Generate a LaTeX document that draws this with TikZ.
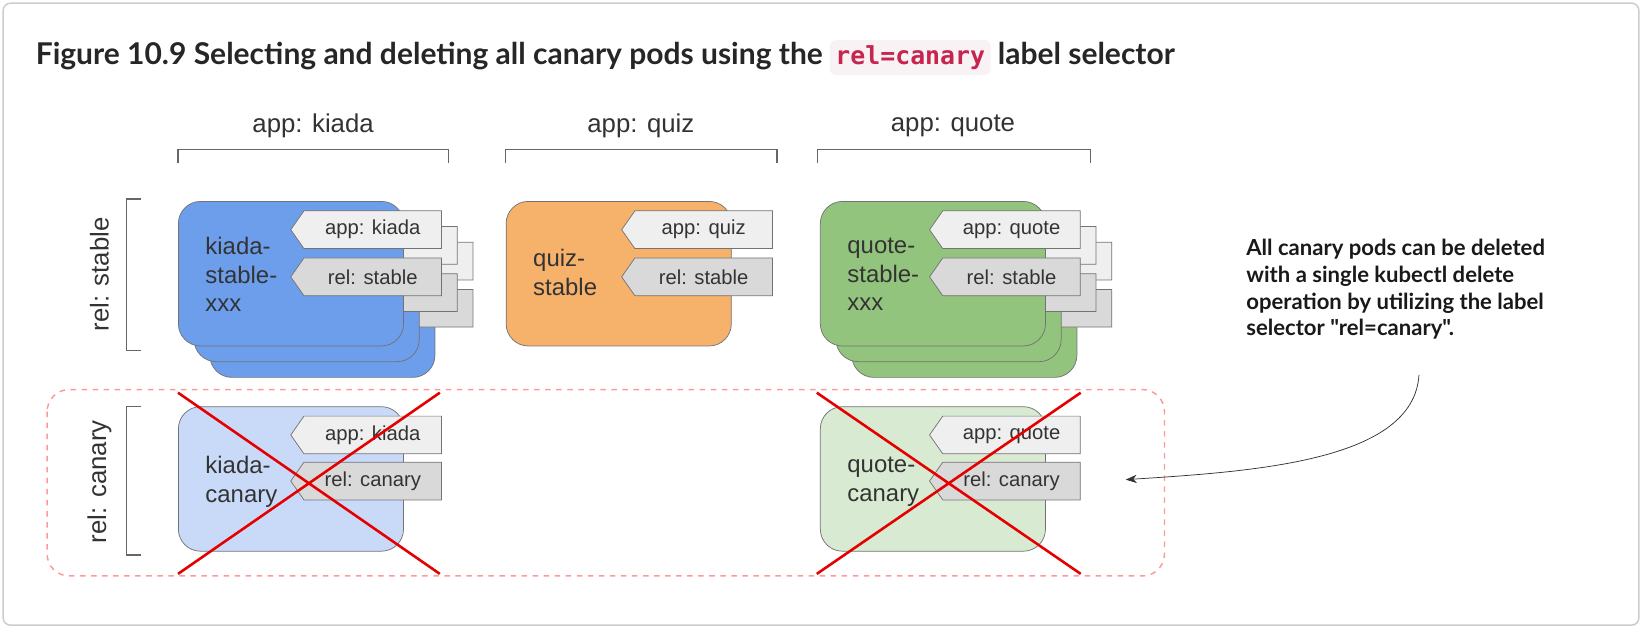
\documentclass[tikz,border=0pt]{standalone}
\usepackage{fontspec}
\setmainfont{Liberation Sans}
\newfontfamily\lato{Lato}
\newfontfamily\monofont{DejaVu Sans Mono}
\usepackage{tikz}
\usetikzlibrary{
	shapes.symbols,
	positioning,
	arrows.meta
}
\definecolor{kiadablue}{HTML}{6D9EEB}
\definecolor{kiadalight}{HTML}{C9DAF8}
\definecolor{quizorange}{HTML}{F6B26B}
\definecolor{quotegreen}{HTML}{93C47D}
\definecolor{quotelight}{HTML}{D9EAD3}
\definecolor{tagapp}{HTML}{EFEFEF}
\definecolor{tagrel}{HTML}{D9D9D9}
\definecolor{codered}{HTML}{C7254E}
\definecolor{codebg}{HTML}{F9F2F4}
\begin{document}
\begin{tikzpicture}[x=0.02cm,y=-0.02cm,
	pod/.style={draw=black!55,rounded corners=12pt,minimum width=215*0.02cm,minimum height=138*0.02cm,anchor=north west,inner sep=0},
	podtext/.style={anchor=west,align=left,font=\fontsize{13}{15.5}\selectfont,text=black!80},
	tag/.style={draw=black!55,shape=signal,signal to=west,signal pointer angle=110,minimum width=144*0.02cm,minimum height=36*0.02cm,anchor=north east,inner sep=0,font=\fontsize{11}{13}\selectfont,text=black!80},
	apptag/.style={tag,fill=tagapp},
	reltag/.style={tag,fill=tagrel},
	header/.style={font=\fontsize{14}{16}\selectfont,text=black!80},
	brace/.style={draw=black!60,line width=0.6pt},
	cross/.style={draw=red!90!black,line width=1.4pt}
]
	\useasboundingbox (0,0) rectangle (1568,600);
	\draw[black!20,rounded corners=4pt,line width=0.8pt] (3,3) rectangle (1565,597);

	% title
	\node[anchor=west,font=\lato\bfseries\fontsize{16.3}{19}\selectfont,text=black!85] (title) at (28,55)
		{Figure 10.9 Selecting and deleting all canary pods using the
		 \tikz[baseline=(c.base)]\node[fill=codebg,rounded corners=3pt,inner sep=3pt,font=\monofont\bfseries\fontsize{13.5}{15}\selectfont,text=codered] (c) {rel=canary};
		 label selector};

	% column headers
	\node[header] (hkiada) at (299,120) {app: kiada};
	\node[header] (hquiz)  at (612,120) {app: quiz};
	\node[header] (hquote) at (910,120) {app: quote};
	\foreach \a/\b in {170/428,483/742,781/1041}
		\draw[brace] (\a,156) -- (\a,143) -- (\b,143) -- (\b,156);

	% row headers
	\node[header,rotate=90] (hstable) at (95,262) {rel: stable};
	\node[header,rotate=90] (hcanary) at (95,460) {rel: canary};
	\draw[brace] (135,190) -- (121,190) -- (121,335) -- (135,335);
	\draw[brace] (135,388) -- (121,388) -- (121,530) -- (135,530);

	% canary selection
	\draw[red!40,dashed,line width=0.8pt,rounded corners=12pt] (45,372) rectangle (1112,550);

	% stable pods (stacked)
	\foreach \d in {30,15} {
		\node[pod,fill=kiadablue]  at (170+\d,192+\d) {};
		\node[apptag] at (422+\d,201+\d) {};
		\node[reltag] at (422+\d,246+\d) {};
		\node[pod,fill=quotegreen] at (783+\d,192+\d) {};
		\node[apptag] at (1032+\d,201+\d) {};
		\node[reltag] at (1032+\d,246+\d) {};
	}
	\node[pod,fill=kiadablue] (kiadastable) at (170,192) {};
	\node[apptag] (kiadastableapp) at (422,201) {app: kiada};
	\node[reltag] (kiadastablerel) at (422,246) {rel: stable};
	\node[podtext] at (190,262) {kiada-\\stable-\\xxx};

	\node[pod,fill=quizorange] (quizstable) at (483,192) {};
	\node[apptag] (quizstableapp) at (738,201) {app: quiz};
	\node[reltag] (quizstablerel) at (738,246) {rel: stable};
	\node[podtext] at (503,260) {quiz-\\stable};

	\node[pod,fill=quotegreen] (quotestable) at (783,192) {};
	\node[apptag] (quotestableapp) at (1032,201) {app: quote};
	\node[reltag] (quotestablerel) at (1032,246) {rel: stable};
	\node[podtext] at (803,262) {quote-\\stable-\\xxx};

	% canary pods
	\node[pod,fill=kiadalight] (kiadacanary) at (170,388) {};
	\node[apptag] (kiadacanaryapp) at (422,397) {app: kiada};
	\node[reltag] (kiadacanaryrel) at (422,441) {rel: canary};
	\node[podtext] at (190,460) {kiada-\\canary};

	\node[pod,fill=quotelight] (quotecanary) at (783,388) {};
	\node[apptag] (quotecanaryapp) at (1032,397) {app: quote};
	\node[reltag] (quotecanaryrel) at (1032,441) {rel: canary};
	\node[podtext] at (803,460) {quote-\\canary};

	% crosses
	\draw[cross] (170,375) -- (420,548) (420,375) -- (170,548);
	\draw[cross] (780,375) -- (1032,548) (1032,375) -- (780,548);

	% note
	\node[anchor=north west,align=left,font=\lato\bfseries\fontsize{12}{14.6}\selectfont,text=black!90] (note) at (1184,222)
		{All canary pods can be deleted\\with a single kubectl delete\\operation by utilizing the label\\selector "rel=canary".};
	\coordinate (notefoot) at (1355,358);
	\coordinate (target) at (1075,458);
	\draw[-{Stealth[length=6pt]},black!80] (notefoot) .. controls (1350,440) and (1200,450) .. (target);
\end{tikzpicture}
\end{document}
